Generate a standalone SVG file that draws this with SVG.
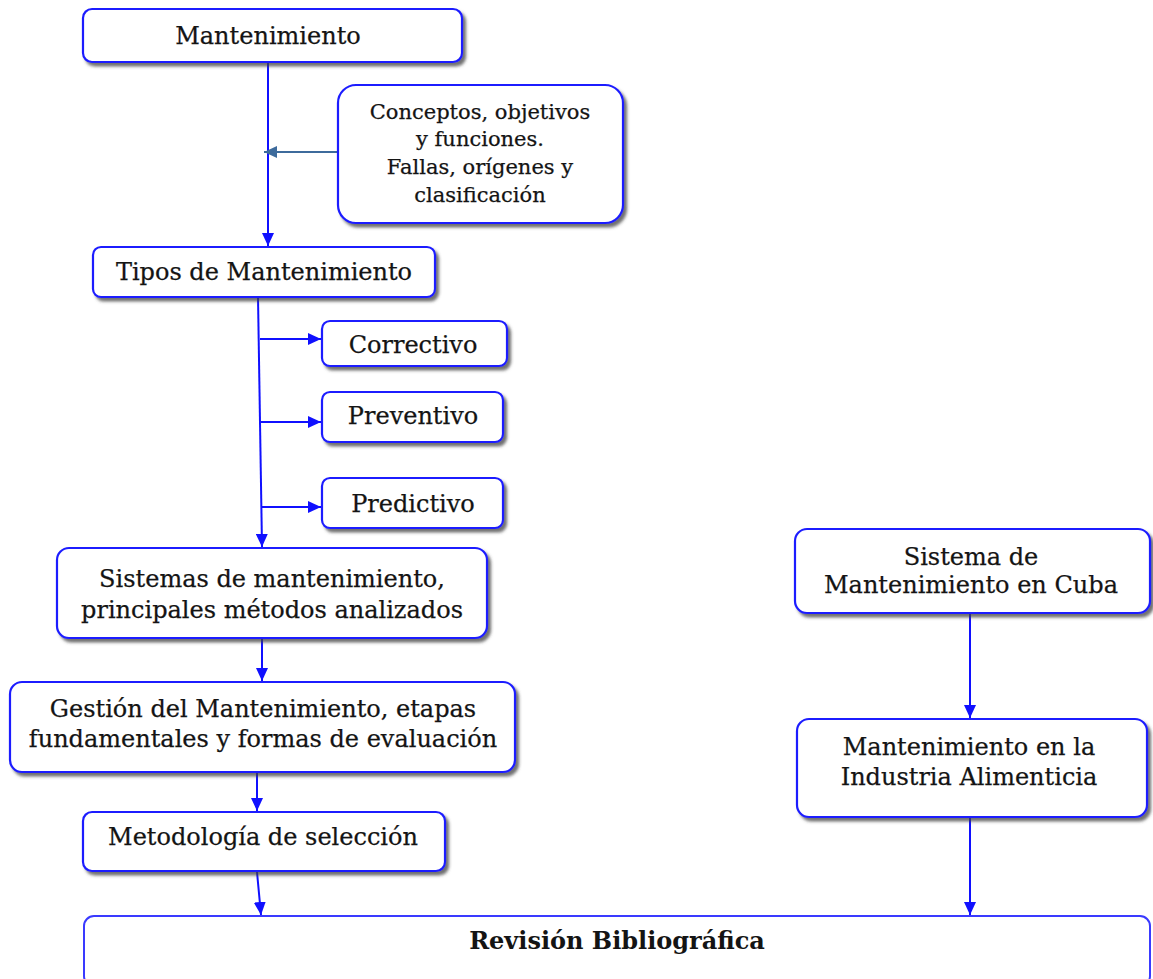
<svg xmlns="http://www.w3.org/2000/svg" width="1153" height="979" viewBox="0 0 1153 979">
  <style>
    .box { fill: #ffffff; stroke: #1f1fff; stroke-width: 2.2; filter: url(#shadow); }
    .plain { fill: #ffffff; stroke: #3a3aff; stroke-width: 2; }
    .label { font-family: "DejaVu Serif", "Liberation Serif", serif; font-size: 24px; fill: #141414; stroke: #141414; stroke-width: 0.25; text-anchor: middle; }
    .small { font-size: 21px; }
    .bold { font-weight: bold; stroke-width: 0; }
    .flow { stroke: #1010ff; stroke-width: 2; fill: none; marker-end: url(#head); }
    .side { stroke: #3d6b9c; stroke-width: 2; fill: none; marker-end: url(#headSide); }
  </style>
  <defs>
    <filter id="shadow" x="-10%" y="-20%" width="125%" height="150%">
      <feDropShadow dx="3" dy="3.5" stdDeviation="1.4" flood-color="#404040" flood-opacity="0.75"/>
    </filter>
    <marker id="head" markerUnits="userSpaceOnUse" markerWidth="14" markerHeight="12" refX="13" refY="6" orient="auto">
      <path d="M0,0 L13,6 L0,12 Z" fill="#1010ff"/>
    </marker>
    <marker id="headSide" markerUnits="userSpaceOnUse" markerWidth="14" markerHeight="12" refX="13" refY="6" orient="auto">
      <path d="M0,0 L13,6 L0,12 Z" fill="#3d6b9c"/>
    </marker>
  </defs>

  <!-- connectors -->
  <g id="connectors">
    <line class="flow" x1="268" y1="63" x2="268" y2="246"/>
    <line class="side" x1="338" y1="152" x2="264" y2="152"/>
    <line class="flow" x1="258" y1="297" x2="262" y2="547"/>
    <line class="flow" x1="260" y1="339" x2="321" y2="339"/>
    <line class="flow" x1="261" y1="422" x2="321" y2="422"/>
    <line class="flow" x1="261" y1="507" x2="321" y2="507"/>
    <line class="flow" x1="262" y1="639" x2="262" y2="681"/>
    <line class="flow" x1="257" y1="772" x2="257" y2="811"/>
    <line class="flow" x1="257" y1="872" x2="261" y2="915"/>
    <line class="flow" x1="970" y1="613" x2="970" y2="718"/>
    <line class="flow" x1="970" y1="817" x2="970" y2="915"/>
  </g>

  <g id="node-mantenimiento">
    <rect class="box" x="83" y="9" width="379" height="53" rx="9"/>
    <text class="label" x="268" y="44" font-size="25">Mantenimiento</text>
  </g>

  <g id="node-conceptos">
    <rect class="box" x="338" y="85" width="285" height="138" rx="18"/>
    <text class="label small" x="480" y="119">Conceptos, objetivos</text>
    <text class="label small" x="480" y="146">y funciones.</text>
    <text class="label small" x="480" y="174">Fallas, orígenes y</text>
    <text class="label small" x="480" y="202">clasificación</text>
  </g>

  <g id="node-tipos">
    <rect class="box" x="93" y="247" width="342" height="50" rx="8"/>
    <text class="label" x="264" y="280">Tipos de Mantenimiento</text>
  </g>

  <g id="node-correctivo">
    <rect class="box" x="322" y="321" width="185" height="45" rx="8"/>
    <text class="label" x="413" y="353">Correctivo</text>
  </g>

  <g id="node-preventivo">
    <rect class="box" x="322" y="392" width="181" height="50" rx="8"/>
    <text class="label" x="413" y="424">Preventivo</text>
  </g>

  <g id="node-predictivo">
    <rect class="box" x="322" y="478" width="181" height="50" rx="8"/>
    <text class="label" x="413" y="512">Predictivo</text>
  </g>

  <g id="node-sistemas">
    <rect class="box" x="57" y="548" width="430" height="90" rx="12"/>
    <text class="label" x="272" y="587">Sistemas de mantenimiento,</text>
    <text class="label" x="272" y="618">principales métodos analizados</text>
  </g>

  <g id="node-gestion">
    <rect class="box" x="10" y="682" width="505" height="90" rx="12"/>
    <text class="label" x="263" y="717" font-size="23.5">Gestión del Mantenimiento, etapas</text>
    <text class="label" x="263" y="747" font-size="23.5">fundamentales y formas de evaluación</text>
  </g>

  <g id="node-metodologia">
    <rect class="box" x="83" y="812" width="362" height="59" rx="9"/>
    <text class="label" x="263" y="845">Metodología de selección</text>
  </g>

  <g id="node-cuba">
    <rect class="box" x="795" y="529" width="355" height="84" rx="12"/>
    <text class="label" x="971" y="565">Sistema de</text>
    <text class="label" x="971" y="593">Mantenimiento en Cuba</text>
  </g>

  <g id="node-industria">
    <rect class="box" x="797" y="719" width="350" height="98" rx="12"/>
    <text class="label" x="969" y="755">Mantenimiento en la</text>
    <text class="label" x="969" y="785">Industria Alimenticia</text>
  </g>

  <g id="node-revision">
    <rect class="plain" x="84" y="916" width="1066" height="70" rx="10"/>
    <text class="label bold" x="617" y="949" font-size="22">Revisión Bibliográfica</text>
  </g>
</svg>
